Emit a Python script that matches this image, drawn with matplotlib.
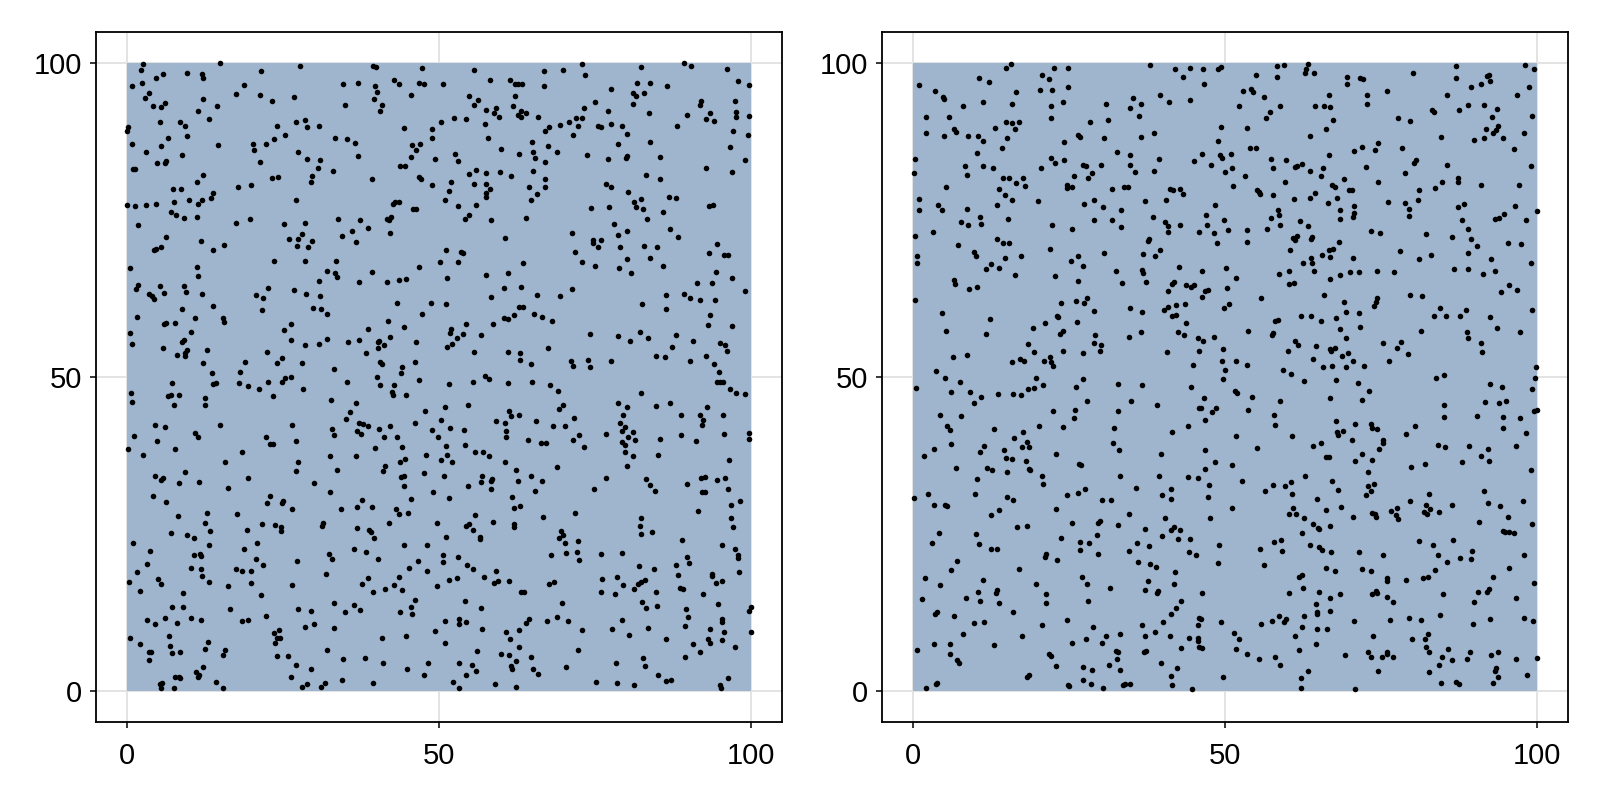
import numpy as np
import matplotlib
matplotlib.use('Agg')
import matplotlib.pyplot as plt

plt.rcParams['font.family'] = ['Liberation Sans', 'DejaVu Sans']

# values, one list per region of each panel
left_upper_a = [(2.7,99.8),(2.25,98.8),(5.75,98.25),(4.7,97.55),(2.5,96.8),(0.85,96.25),(3.6,95.25),(2.9,94.4),(4.3,93.2),(5.55,93.0),(6.15,93.55),(9.6,98.35),(12.05,98.15),(12.3,97.5),(14.9,99.9),(21.45,98.75),(27.75,99.55),(39.5,99.5),(39.9,99.35),(47.25,99.1),(18.8,96.4),(17.45,95.0),(21.4,94.85),(23.3,93.85),(26.8,94.6),(12.25,94.3),(14.5,93.2),(11.5,92.4),(13.15,91.0),(34.6,96.55),(37.0,96.85),(35.0,93.3),(39.7,96.3),(40.15,95.3),(39.55,94.3),(40.85,93.3),(40.55,92.35),(42.8,97.2),(43.6,96.65),(46.75,96.8),(47.65,96.65),(45.45,94.95),(5.35,90.65),(8.55,90.6),(9.4,90.0),(0.15,89.75),(0.1,89.1),(6.6,88.05),(9.7,88.3),(0.8,87.1),(5.45,86.8),(3.1,85.75),(8.8,85.4),(14.7,86.95),(4.8,84.0),(6.2,84.0),(6.35,84.35),(0.95,83.1),(1.35,83.1),(12.2,82.15),(11.3,81.05),(7.4,79.95),(8.65,79.85),(13.9,79.3),(13.45,78.5),(12.0,78.2),(11.4,77.5),(9.95,78.2),(7.6,77.85),(0.1,77.4),(1.35,77.2),(3.1,77.3),(4.65,77.45),(7.05,76.2),(7.9,75.85),(9.15,75.35),(11.2,75.5),(1.75,74.2),(6.3,72.3),(11.9,71.6),(5.5,70.75),(4.4,70.15),(4.65,70.3),(13.75,70.15),(15.55,71.05),
(20.3,87.0),(20.4,86.1),(22.3,87.0),(23.6,87.8),(25.4,88.5),(24.0,89.9),(27.1,90.6),(28.6,90.95),(28.8,89.75),(30.75,89.9),(33.3,88.1),(35.25,87.8),(36.6,87.2),(37.0,85.2),(27.4,85.75),(28.9,84.75),(31.0,84.5),(30.65,83.2),(33.0,82.7),(21.35,84.2),(23.3,81.65),(24.2,81.85),(29.65,82.0),(29.55,81.05),(19.9,80.55),(17.8,80.2),(27.1,78.2),(39.3,81.45),(44.4,89.55),(45.75,86.95),(47.0,87.0),(46.3,86.15),(45.45,85.0),(43.75,83.5),(44.55,83.6),(46.75,81.85),(47.15,81.45),(43.65,77.9),(43.0,77.85),(42.7,77.55),(45.9,76.75),(46.3,76.75),(42.3,75.4),(41.7,75.2),(42.0,74.9),(42.2,72.95),(33.9,75.1),(37.4,74.9),(38.6,73.65),(36.0,73.15),(34.4,72.35),(36.7,71.55),(17.45,74.55),(19.7,75.1),(25.15,74.3),(28.5,74.5),(28.05,72.7),(26.05,72.0),(27.5,71.9),(29.65,71.7),(27.3,70.9),(29.0,70.7),(23.6,68.5),(28.6,68.45),(33.45,68.45)]

left_upper_b = [(55.6,98.9),(50.7,96.7),(58.2,97.2),(61.3,97.2),(62.2,96.6),(62.7,96.6),(63.3,96.6),(66.8,98.7),(66.8,96.25),(69.85,98.8),(72.9,99.75),(73.4,98.1),(82.4,99.35),(89.2,99.9),(90.3,99.55),(96.1,99.0),(97.9,97.1),(77.6,95.9),(81.7,96.85),(83.7,96.85),(86.5,96.3),(81.0,95.25),(81.6,94.75),(82.8,95.15),(81.1,93.5),(54.75,94.65),(56.3,94.0),(55.6,93.3),(57.55,92.55),(59.1,92.8),(58.75,92.05),(59.55,91.4),(62.2,94.75),(61.9,93.1),(63.1,92.4),(62.6,91.75),(63.1,91.4),(63.85,91.95),(65.9,91.45),(74.9,93.8),(73.25,92.8),(77.0,92.35),(71.85,91.2),(72.9,91.15),(70.85,90.5),(69.4,90.05),(72.3,89.95),(67.6,89.7),(67.0,89.15),(75.5,89.95),(76.0,89.85),(77.6,90.25),(79.25,90.0),(80.1,88.6),(71.5,88.5),(83.55,92.05),(89.65,91.75),(88.1,90.0),(91.9,93.9),(91.7,93.3),(93.4,92.05),(92.7,91.1),(94.05,90.75),(97.4,93.9),(97.6,92.15),(97.5,91.45),(97.0,89.2),(96.6,86.65),
(50.4,90.55),(52.4,91.15),(54.4,91.1),(48.9,89.5),(48.9,88.0),(57.3,90.25),(57.8,88.05),(59.85,86.35),(64.95,87.4),(67.5,86.8),(65.0,85.85),(68.9,85.75),(62.8,85.45),(65.35,84.9),(67.0,84.2),(52.6,85.55),(49.4,84.75),(53.0,84.3),(73.75,85.25),(77.1,84.75),(78.6,87.1),(80.05,85.15),(79.95,84.85),(83.85,87.45),(85.45,85.05),(92.8,83.2),(96.9,82.6),(83.1,82.2),(85.3,81.45),(76.8,80.75),(77.6,80.2),(80.3,79.4),(81.2,77.85),(82.4,78.3),(81.6,77.05),(82.6,76.7),(86.8,78.7),(87.9,78.4),(77.2,77.1),(74.4,76.95),(85.9,76.2),(83.25,75.2),(93.25,77.2),(93.85,77.35),(54.75,82.35),(56.0,82.95),(57.6,82.4),(59.75,82.55),(61.6,81.95),(65.05,82.7),(66.95,81.55),(66.95,80.2),(64.35,80.2),(65.75,79.1),(64.75,78.1),(48.9,80.55),(51.9,81.05),(51.6,79.6),(50.95,78.2),(55.6,80.65),(57.5,80.75),(58.1,79.85),(57.6,79.3),(57.5,78.6),(56.0,77.4),(53.0,77.15),(54.85,75.7),(54.2,75.1),(58.4,74.9),(64.0,75.35),(78.05,74.4),(80.05,73.2),(78.65,72.55),(87.0,73.5),(88.25,72.25),(71.3,72.85),(60.5,72.15),(74.65,71.75),(74.65,71.3),(76.0,71.85),(75.5,70.6),(79.0,70.6),(82.8,70.85),(84.95,70.6),(94.45,71.2),(93.2,69.8),(95.6,69.4),(96.2,69.4),(51.1,70.2),(53.5,69.9),(53.8,69.65),(71.7,69.9),(50.15,68.25),(53.1,68.25),(63.4,68.15),(72.9,68.25),(80.05,68.7),(83.75,68.85)]

left_middle_a = [(0.55,67.35),(11.25,67.55),(11.35,66.1),(1.75,64.65),(1.45,63.95),(5.4,64.5),(9.25,64.4),(9.5,63.55),(5.95,63.4),(3.6,63.15),(4.1,62.95),(4.4,62.45),(12.05,63.25),(8.8,60.85),(13.9,61.3),(10.95,59.45),(1.65,59.5),(15.35,59.3),(15.6,58.8),(6.05,58.45),(6.35,58.5),(7.7,58.65),(10.3,57.15),(0.5,57.0),(9.15,55.9),(8.9,55.5),(0.85,55.3),(5.75,54.65),(9.6,54.35),(12.85,54.25),(9.4,53.75),(8.0,53.45),(9.3,53.25),(12.3,52.2),(13.7,50.6),(7.3,49.1),(14.3,49.0),(13.85,48.8),(0.65,47.4),(0.8,46.0),(8.45,47.15),(7.05,47.15),(6.55,47.0),(12.5,46.7),(12.5,45.6),(7.6,45.5),(4.5,42.4),(6.15,42.0),(14.9,42.4),(11.0,41.1),(11.45,40.45),(1.2,40.6),(4.9,39.85),(0.25,38.5),(7.8,38.5),(2.55,37.5),(9.4,34.85),(15.7,36.5),(18.4,38.0),
(22.6,64.1),(20.65,63.05),(21.8,62.55),(21.6,60.6),(26.85,63.85),(28.75,63.25),(30.95,62.85),(30.85,65.2),(32.1,66.9),(33.4,66.5),(33.65,65.95),(37.15,65.1),(39.25,66.75),(41.6,65.1),(43.6,65.45),(44.75,65.55),(46.75,67.55),(29.8,60.9),(31.05,60.85),(32.0,60.0),(43.2,61.75),(47.25,60.0),(41.8,58.95),(44.4,57.95),(38.7,57.6),(42.2,56.35),(37.15,55.85),(35.4,55.5),(40.3,55.6),(40.45,55.7),(41.25,55.1),(40.3,54.6),(46.3,55.6),(38.25,53.8),(26.3,58.45),(25.25,57.5),(26.3,55.9),(28.5,55.1),(30.85,55.25),(32.1,56.1),(22.5,53.9),(19.0,52.4),(24.85,53.0),(24.1,52.25),(28.1,52.25),(18.2,50.85),(33.2,51.25),(40.6,52.3),(40.8,52.1),(44.05,51.55),(46.2,52.3),(43.95,50.6),(40.15,50.05),(46.75,49.45),(26.25,50.05),(25.4,49.75),(24.95,49.25),(22.6,49.15),(18.05,49.0),(19.45,48.55),(21.2,48.1),(23.45,47.0),(28.25,48.0),(35.25,49.15),(40.6,48.7),(42.8,48.65),(42.5,47.6),(42.6,47.1),(44.65,47.1),(32.65,46.4),(36.7,45.85),(35.7,44.45),(35.15,43.3),(47.8,44.55),(46.1,42.7),(37.2,42.7),(37.85,42.45),(38.65,42.2),(40.35,41.7),(42.15,42.2),(32.9,41.75),(33.2,40.75),(36.8,41.45),(37.5,40.85),(41.2,40.45),(43.2,40.45),(44.05,38.85),(39.75,38.7),(26.4,42.3),(22.25,40.5),(27.1,39.85),(22.95,39.3),(23.45,39.3),(32.5,37.45),(36.7,37.45),(47.95,37.6),(27.5,36.5),(33.65,35.15),(27.1,34.95),(44.55,36.9),(43.8,36.5),(41.3,35.8),(41.05,35.05),(47.6,34.75)]

left_middle_b = [(51.3,65.7),(57.5,66.25),(61.0,66.55),(75.0,67.7),(78.8,67.35),(80.8,66.5),(85.9,67.65),(94.35,66.75),(91.3,64.9),(93.65,64.95),(96.85,65.75),(60.35,64.2),(63.1,64.25),(71.3,64.05),(58.4,62.75),(65.75,63.05),(69.35,62.9),(48.75,61.75),(51.2,61.65),(82.55,61.65),(86.4,63.05),(86.4,60.85),(89.15,63.25),(90.15,62.55),(91.8,62.2),(94.1,62.2),(93.3,59.85),(93.0,58.2),(96.9,58.15),(62.8,61.1),(63.5,61.05),(62.0,59.85),(60.45,59.45),(61.0,59.25),(65.2,60.0),(66.5,59.55),(68.1,58.85),(54.35,58.45),(58.6,58.45),(51.95,57.55),(51.75,57.0),(53.8,56.8),(52.9,56.25),(56.75,56.6),(52.1,55.3),(51.35,54.7),(55.6,54.0),(61.0,53.9),(62.95,53.8),(67.5,54.6),(63.0,52.7),(64.65,52.0),(71.05,52.55),(71.4,51.8),(73.8,52.7),(74.2,51.6),(77.45,52.55),(74.15,56.85),(78.6,56.5),(80.6,55.75),(82.15,57.2),(83.4,56.25),(88.0,56.6),(90.7,55.75),(87.35,54.75),(84.75,53.25),(86.15,53.1),(90.25,52.55),(92.75,53.4),(95.0,55.45),(95.8,55.0),(96.15,54.05),(94.05,52.0),(94.8,50.7),(94.45,49.25),(94.9,49.25),(95.5,49.25),(96.6,48.0),(97.6,47.5),(51.55,48.9),(55.5,49.25),(57.35,50.2),(58.0,49.65),(61.0,49.0),(64.9,49.15),(67.7,48.65),(69.0,47.8),(82.4,47.5),(78.6,45.85),(80.1,45.15),(84.75,45.3),(86.95,45.85),(92.9,45.2),(88.8,43.95),(91.75,43.9),(95.4,43.95),(92.3,43.15),(92.1,42.4),(79.4,43.9),(79.05,42.7),(79.75,42.05),(79.3,41.4),(81.1,41.15),(80.3,40.5),(81.4,40.0),(79.3,39.65),(79.7,39.2),(76.65,40.85),(85.4,40.1),(88.75,40.75),(95.55,40.95),(91.15,39.85),(79.75,38.0),(81.05,37.4),(85.0,37.6),(80.1,35.8),(96.45,36.75),
(69.9,45.6),(69.15,44.85),(71.6,43.4),(68.25,42.2),(70.2,42.2),(72.35,40.8),(71.45,39.95),(73.25,38.8),(65.5,43.05),(62.75,44.0),(61.2,44.5),(61.55,43.75),(59.15,43.05),(60.6,42.65),(60.8,41.35),(60.8,40.5),(64.2,39.95),(66.35,39.55),(67.15,39.55),(54.6,45.55),(50.95,45.2),(50.25,43.15),(51.75,41.9),(54.05,41.6),(48.85,41.5),(49.9,40.5),(51.2,39.0),(54.15,39.15),(55.7,38.1),(57.0,38.05),(58.0,37.45),(51.35,37.5),(50.35,36.8),(52.1,36.4),(60.55,36.5),(62.3,35.25),(68.95,35.7)]

left_lower_a = [(4.55,34.25),(5.85,33.9),(5.55,33.6),(8.35,33.15),(11.6,33.25),(16.2,32.3),(19.35,33.9),(30.05,33.15),(32.55,31.75),(44.35,34.25),(43.95,34.0),(44.35,32.65),(4.15,31.1),(6.25,30.15),(22.95,31.1),(22.45,29.9),(25.05,30.25),(24.85,29.9),(26.5,28.9),(37.65,30.35),(36.85,29.25),(39.3,29.3),(34.25,29.0),(45.5,30.6),(43.1,29.0),(43.6,28.1),(45.05,28.35),(8.3,27.85),(12.9,28.35),(17.7,28.15),(12.5,26.75),(13.3,25.4),(7.1,25.1),(9.6,24.8),(10.8,24.35),(19.3,25.7),(21.65,26.55),(23.8,26.4),(24.75,26.05),(24.75,25.45),(31.45,26.75),(31.3,26.3),(36.9,26.0),(38.85,25.65),(39.05,25.25),(39.55,24.35),(42.0,26.7),(1.05,23.6),(3.7,22.3),(13.2,23.2),(10.8,21.6),(11.7,21.8),(11.85,21.45),(18.8,22.6),(20.9,23.6),(20.75,20.95),(21.9,20.0),(27.2,20.7),(32.4,21.85),(32.9,20.95),(36.45,22.65),(38.3,22.2),(40.25,20.95),(44.35,23.25),(48.0,23.25),(46.6,20.75),(3.25,20.2),(1.6,18.95),(10.35,19.5),(11.85,19.4),(12.1,18.3),(17.55,19.45),(18.5,19.15),(19.85,19.15),(31.9,18.6),(38.6,18.05),(45.15,19.6),(48.15,19.15),(43.6,18.2),(0.4,17.4),(5.0,17.9),(5.45,17.05),(13.2,17.4),(16.3,16.75),(19.85,17.25),(26.45,16.95),(37.7,17.05),(42.75,16.95),(2.15,15.95),(9.05,15.65),(21.45,15.3),(39.4,15.7),(41.35,16.25),(44.15,16.0),(33.2,14.05),(36.45,13.65),(46.15,14.5),(7.3,13.3),(8.95,13.35),(16.6,13.05),(27.4,13.1),(29.5,12.75),(35.0,12.5),(37.35,12.85),(43.75,12.6),(45.55,13.3),(45.6,12.2),(6.1,11.65),(3.3,11.3),(4.6,10.6),(8.05,10.9),(10.25,11.55),(11.85,11.35),(18.4,11.1),(19.4,11.25),(22.3,11.95),(28.5,10.25),(30.05,10.6),(33.2,10.1),(23.6,9.3),(24.4,9.65),(24.0,8.45),(24.55,8.4),(23.75,7.7),(0.6,8.4),(2.1,7.5),(6.85,8.8),(6.9,7.1),(13.0,7.85),(12.55,6.75),(7.3,6.1),(8.5,6.2),(3.6,6.15),(3.85,6.15),(3.65,4.9),(15.8,6.55),(15.4,5.65),(40.8,8.5),(44.65,8.8),(32.15,6.6),(24.0,5.55),(25.85,5.6),(34.6,5.1),(38.2,5.3),(27.05,4.1),(29.55,3.55),(41.1,4.4),(44.9,3.55),(48.2,4.5),(47.6,2.55),(12.2,3.75),(11.1,2.95),(11.6,2.55),(11.4,2.25),(7.75,2.25),(8.45,2.3),(26.25,2.3),(5.65,1.25),(14.3,1.5),(28.9,1.1),(31.7,1.3),(34.5,1.7),(39.4,1.2)]

left_lower_b = [(50.75,34.3),(56.85,34.2),(64.7,34.2),(54.7,32.6),(56.8,33.3),(58.45,33.75),(58.25,33.4),(58.35,32.15),(62.6,33.4),(66.55,33.4),(65.35,31.85),(49.0,31.75),(51.6,30.8),(61.65,30.95),(63.0,29.4),(62.0,29.05),(76.65,33.9),(74.75,32.2),(83.15,33.7),(83.8,32.8),(84.6,31.85),(89.75,32.9),(91.95,33.9),(92.65,34.05),(94.55,33.65),(95.75,33.9),(96.2,32.2),(92.1,31.6),(92.5,31.6),(96.7,29.6),(98.2,30.2),(91.4,28.65),(96.75,27.5),(97.0,26.15),(55.8,27.95),(54.85,26.65),(54.35,26.3),(49.75,26.75),(58.6,26.9),(55.5,25.55),(62.05,26.55),(62.0,26.1),(66.7,27.65),(71.75,28.3),(51.2,24.5),(56.55,24.5),(56.6,24.15),(82.3,27.55),(82.2,26.3),(82.4,25.0),(84.1,25.3),(69.6,25.5),(69.8,24.8),(69.2,24.3),(70.2,23.5),(72.3,23.95),(72.05,22.15),(70.25,21.9),(72.4,20.9),(67.95,21.65),(75.9,21.85),(79.35,21.95),(88.9,24.1),(95.35,23.3),(97.45,22.55),(97.9,21.65),(97.9,21.1),(89.7,21.35),(90.05,20.45),(87.9,20.05),(50.65,21.7),(50.6,20.55),(53.0,21.35),(54.5,20.0),(55.45,19.4),(59.2,19.05),(57.15,18.1),(52.85,18.0),(51.6,17.6),(58.8,17.25),(59.5,17.45),(61.15,17.55),(49.65,16.65),(82.0,19.95),(84.4,19.4),(88.25,18.45),(98.0,18.9),(93.75,18.6),(93.7,18.3),(94.4,17.25),(95.25,17.5),(78.45,18.2),(76.15,17.8),(79.45,16.9),(83.0,17.7),(82.35,17.3),(81.85,17.05),(81.25,16.2),(84.7,15.8),(88.65,16.45),(89.1,16.2),(92.25,15.5),(68.35,17.35),(67.6,17.0),(63.05,15.75),(63.6,15.7),(76.0,15.8),(78.1,15.45),(54.1,14.3),(56.65,13.2),(69.7,13.95),(82.45,14.15),(83.1,13.25),(84.85,13.6),(94.65,13.9),(89.6,13.0),(89.8,11.85),(89.35,10.35),(50.9,11.2),(53.15,11.4),(53.25,10.6),(54.4,10.95),(64.4,11.5),(63.9,10.9),(67.25,11.1),(68.9,11.8),(70.7,11.1),(79.3,11.25),(95.35,11.4),(95.25,10.95),(49.35,9.55),(56.9,9.9),(60.75,9.4),(62.85,9.65),(72.95,9.75),(77.75,9.8),(83.4,9.95),(93.35,9.9),(95.65,9.4),(80.4,8.85),(61.3,8.2),(86.4,8.2),(93.1,8.2),(93.4,7.65),(95.25,8.05),(50.95,7.65),(90.6,7.45),(97.45,7.0),(56.1,6.35),(62.75,7.0),(72.3,6.45),(91.75,6.2),(59.85,5.85),(61.2,5.7),(64.7,5.45),(89.4,5.45),(82.6,5.25),(62.3,4.7),(53.15,4.45),(55.25,4.2),(78.35,4.45),(82.9,4.0),(61.6,3.9),(61.7,3.45),(65.1,3.5),(70.3,3.8),(55.95,3.2),(54.3,2.5),(65.85,2.65),(85.1,2.6),(86.3,1.55),(87.2,1.7),(96.3,2.0),(52.2,1.4),(59.0,1.15),(75.05,1.5),(78.55,1.3),(95.0,1.0)]

# readings for the strip under the last crop and the right edge
left_edge = [(5.4,1.1),(5.5,0.4),(7.6,0.4),(8.6,2.1),(15.4,0.5),(28.1,0.7),(31.1,0.7),(53.2,0.5),(81.2,0.9),(95.1,0.5),(62.4,0.7),(99.6,96.4),(99.6,91.6),(99.0,63.7),(99.6,41.1),(99.6,40.1),(99.9,13.3),(99.6,12.8),(99.9,9.4),(99.5,88.5),(98.9,84.6),(98.9,47.2)]

right_upper_a = [(15.75,99.8),(15.0,99.15),(22.6,99.25),(24.8,99.1),(38.0,99.6),(42.05,99.0),(44.4,99.1),(43.2,97.7),(20.65,98.1),(21.8,97.4),(10.6,97.55),(12.3,97.0),(1.0,96.5),(3.6,95.55),(4.8,94.5),(5.0,94.2),(8.0,93.2),(11.25,93.7),(15.9,93.5),(16.6,95.3),(20.4,95.65),(22.3,95.7),(24.9,96.1),(24.1,93.7),(22.1,93.15),(22.1,91.25),(31.0,93.5),(35.3,94.4),(36.6,93.4),(34.85,92.8),(36.25,91.55),(39.65,94.8),(41.0,93.8),(44.35,94.05),(2.1,91.35),(5.8,91.3),(6.6,89.5),(7.0,89.0),(2.2,88.75),(5.1,88.35),(8.9,88.4),(10.5,88.4),(11.3,87.5),(13.25,89.6),(15.0,90.65),(15.85,90.45),(17.1,90.65),(16.4,89.5),(15.15,88.0),(14.35,86.5),(10.25,85.65),(28.45,90.6),(31.2,90.9),(26.4,88.5),(26.8,88.25),(30.7,88.1),(24.25,87.45),(36.6,88.15),(38.65,88.85),(32.7,85.8),(34.75,85.25),(39.5,84.75),(45.1,84.4),(34.8,83.75),(38.7,82.8),(35.65,82.6),(0.4,84.7),(0.3,82.5),(8.45,83.5),(8.65,82.2),(11.3,83.55),(12.85,83.2),(22.1,84.9),(22.75,84.0),(24.25,84.55),(20.55,83.2),(27.2,83.7),(27.7,83.6),(30.2,83.7),(28.7,82.4),(28.0,81.7),(25.85,81.9),(14.5,81.7),(15.4,81.7),(17.6,81.6),(16.6,80.8),(18.0,80.35),(24.7,80.5),(24.7,80.1),(25.5,80.2),(5.3,80.25),(13.85,79.95),(14.85,79.0),(15.9,78.1),(20.0,78.05),(31.9,79.95),(33.9,80.3),(34.4,80.2),(41.2,79.95),(41.6,79.8),(42.8,79.95),(43.2,79.1),(40.5,78.2),(37.15,78.0),(1.0,78.3),(1.1,76.5),(4.0,77.4),(4.7,76.5),(8.75,76.65),(13.45,77.4),(10.75,75.4),(10.95,74.4),(7.8,74.7),(8.8,74.1),(15.3,75.15),(27.45,77.6),(29.05,78.2),(30.4,77.0),(33.3,76.5),(29.1,74.95),(31.9,75.0),(33.4,73.8),(22.3,74.2),(25.45,73.55),(38.45,75.4),(40.45,74.6),(40.95,74.0),(42.75,74.1),(40.95,73.05),(45.8,73.1),(0.4,72.35),(3.25,73.0),(13.55,71.9),(14.5,71.35),(15.5,71.35),(7.2,71.05),(9.75,69.95),(10.15,69.3),(0.75,69.2),(0.75,68.1),(14.8,68.85),(17.35,69.25),(22.05,70.3),(30.65,69.8),(26.4,69.25),(25.3,68.4),(37.6,71.65),(37.8,72.0),(39.65,70.2),(36.9,69.6),(38.8,69.2),(12.6,67.95)]

right_upper_b = [(46.4,99.0),(48.9,98.95),(49.35,99.3),(46.7,96.6),(54.95,98.0),(58.4,99.5),(59.4,99.7),(58.3,97.7),(63.3,99.8),(63.0,99.05),(62.75,98.4),(64.2,98.3),(69.55,97.75),(71.55,97.5),(72.15,97.45),(69.55,96.6),(80.1,98.4),(86.9,99.55),(86.9,97.5),(92.3,98.1),(92.0,97.9),(92.4,97.1),(90.9,96.6),(89.4,96.2),(52.85,95.5),(54.2,95.75),(54.55,95.3),(56.3,94.5),(52.3,93.15),(58.85,93.05),(57.25,92.15),(56.5,91.2),(66.65,94.8),(64.45,93.15),(65.9,93.15),(66.85,92.9),(67.3,90.85),(66.15,89.4),(63.6,88.35),(72.7,94.8),(72.7,93.45),(75.9,95.45),(85.5,94.9),(83.1,92.55),(83.5,92.1),(87.4,92.5),(88.85,93.3),(91.5,93.35),(93.5,92.65),(92.75,91.35),(77.7,91.2),(79.55,90.8),(93.65,89.9),(93.35,89.3),(92.9,88.9),(91.75,89.5),(91.45,88.0),(89.9,87.7),(94.5,88.05),(84.5,88.15),(49.4,89.7),(53.6,89.6),(48.95,87.5),(54.05,86.4),(54.95,86.4),(46.3,85.45),(49.2,85.3),(49.5,84.9),(51.0,85.5),(47.7,83.7),(51.05,83.3),(50.05,82.55),(53.15,82.0),(51.35,80.45),(57.3,84.75),(59.7,84.6),(57.75,83.2),(62.25,83.9),(61.5,83.55),(61.2,83.35),(63.55,82.75),(65.75,83.2),(65.35,81.9),(59.6,81.05),(66.65,85.35),(70.6,85.9),(71.95,86.6),(74.0,86.05),(74.45,87.2),(78.3,86.5),(72.55,83.45),(80.5,84.5),(80.3,84.1),(85.6,83.8),(78.8,82.4),(69.05,81.5),(74.45,81.05),(67.1,80.6),(67.6,80.25),(69.8,79.8),(70.35,79.8),(55.2,79.8),(55.4,79.45),(55.65,79.15),(57.65,78.9),(61.1,78.35),(63.65,78.5),(64.4,79.2),(67.9,78.4),(66.45,77.7),(70.7,77.2),(68.4,76.5),(70.6,76.05),(70.5,75.5),(68.4,75.2),(87.35,81.65),(87.35,81.05),(84.8,81.0),(83.55,80.1),(91.05,80.5),(81.05,79.8),(80.95,78.1),(76.1,77.8),(78.75,77.7),(79.45,76.65),(79.45,75.65),(88.2,77.5),(87.3,77.05),(94.65,75.9),(93.8,75.25),(93.2,75.15),(88.0,74.9),(88.95,73.55),(82.25,72.7),(86.4,72.3),(89.45,72.0),(90.3,70.8),(88.9,69.7),(92.65,68.75),(48.35,77.3),(46.9,75.7),(49.85,75.0),(47.05,74.1),(48.25,72.95),(50.45,73.45),(48.75,71.35),(53.6,73.45),(53.5,71.5),(58.55,76.6),(58.7,75.8),(57.4,75.25),(56.8,73.6),(58.8,74.25),(62.0,74.85),(63.3,74.0),(60.95,72.1),(61.6,72.35),(61.15,71.75),(64.0,72.3),(63.75,72.0),(68.25,71.55),(73.3,73.15),(74.75,72.95),(60.35,70.2),(66.65,70.15),(67.35,70.3),(65.5,69.35),(66.75,69.1),(63.7,68.9),(62.55,68.2),(64.0,68.15),(70.45,68.9),(78.0,70.05),(81.05,68.8),(82.9,69.35),(95.35,71.3)]

right_middle_a = [(11.7,67.15),(13.8,67.3),(16.4,66.2),(22.8,66.0),(26.5,65.3),(27.2,67.6),(32.55,66.9),(36.7,67.0),(36.85,66.6),(33.5,65.0),(37.4,65.15),(42.6,67.45),(6.6,65.4),(6.8,64.85),(9.0,64.05),(10.35,64.3),(41.9,65.05),(41.5,64.75),(43.7,64.6),(44.5,64.3),(45.0,64.55),(40.9,63.7),(0.45,62.25),(26.15,62.15),(27.85,62.5),(27.4,61.7),(23.75,61.7),(29.1,60.45),(34.85,61.0),(36.65,60.4),(40.2,60.7),(40.9,61.15),(42.2,61.4),(43.55,61.55),(41.45,59.65),(42.15,59.85),(4.75,60.15),(12.4,59.25),(23.05,59.7),(23.2,59.6),(21.2,58.6),(26.3,58.7),(19.3,57.75),(5.35,57.3),(11.7,56.85),(24.0,57.3),(23.55,56.8),(43.75,58.6),(36.5,57.1),(42.55,57.2),(43.4,56.6),(34.65,56.3),(45.6,56.25),(29.15,56.6),(29.1,55.35),(30.15,55.15),(30.05,54.2),(18.5,55.2),(19.5,53.9),(24.0,54.15),(27.2,53.75),(40.65,54.0),(45.8,54.15),(8.7,53.45),(6.45,53.1),(15.95,52.4),(17.2,52.85),(17.8,52.45),(21.1,52.45),(21.95,53.2),(22.15,52.3),(22.5,51.75),(44.95,51.85),(3.8,50.95),(5.2,49.9),(7.55,49.15),(19.75,49.9),(27.35,49.65),(20.8,48.7),(19.4,48.3),(18.4,48.0),(26.2,48.45),(32.8,48.9),(36.65,48.65),(44.55,48.35),(0.6,48.2),(6.1,47.6),(9.2,47.55),(10.9,46.8),(9.8,45.9),(13.65,47.3),(16.05,47.35),(17.4,47.1),(27.85,46.2),(35.0,46.2),(39.05,45.5),(45.9,45.1),(4.45,44.0),(7.75,43.75),(22.45,44.5),(26.05,44.8),(25.8,43.4),(32.8,44.5),(5.45,42.2),(6.0,41.6),(13.0,41.75),(20.25,42.15),(24.1,42.1),(32.25,41.9),(44.0,42.25),(41.55,41.25),(17.6,41.25),(16.2,40.3),(18.3,39.65),(17.5,38.8),(18.6,38.85),(32.05,39.5),(6.1,39.25),(11.5,38.95),(3.4,38.5),(14.65,38.35),(10.75,38.0),(1.75,37.35),(15.0,37.15),(15.9,36.9),(18.15,36.65),(22.9,37.75),(33.0,38.35),(39.8,37.75),(26.7,36.15),(26.95,36.0),(6.95,35.55),(11.85,35.55),(12.75,35.15),(15.1,34.9),(18.6,35.4),(18.75,35.15)]

right_middle_b = [(50.15,67.35),(46.25,66.8),(51.7,65.8),(50.25,64.15),(58.7,66.4),(60.3,66.9),(64.3,66.8),(66.8,65.55),(68.4,66.2),(70.0,66.75),(71.4,66.65),(74.3,66.85),(77.1,66.7),(60.3,64.8),(61.1,65.0),(86.7,67.25),(88.85,67.15),(91.35,66.4),(93.2,66.85),(95.45,64.65),(94.15,63.5),(47.35,63.9),(46.8,63.65),(46.25,62.7),(55.75,62.55),(65.9,63.05),(69.0,61.9),(74.4,62.6),(74.1,61.95),(73.9,61.25),(79.55,63.05),(81.5,62.95),(50.7,61.65),(49.9,61.0),(84.35,60.9),(83.4,59.75),(85.45,59.75),(87.55,59.75),(88.65,60.6),(92.35,59.55),(93.6,57.8),(62.1,59.75),(63.75,59.75),(65.35,58.95),(67.7,59.45),(69.3,60.25),(71.45,60.2),(71.55,58.0),(68.45,57.65),(58.45,59.1),(58.05,58.95),(53.65,57.3),(57.75,57.0),(57.45,56.6),(48.25,56.4),(46.45,55.65),(69.3,56.2),(81.4,57.25),(88.8,57.15),(88.95,56.25),(91.05,55.35),(91.2,53.95),(75.35,55.35),(78.25,55.55),(77.5,54.6),(79.25,53.6),(76.2,52.45),(61.25,55.65),(61.75,55.1),(60.1,54.2),(64.6,54.85),(66.75,54.45),(66.9,54.15),(67.65,54.6),(69.75,53.8),(68.8,53.3),(70.5,52.45),(64.15,52.9),(67.2,51.8),(65.75,51.6),(69.3,51.5),(72.25,51.75),(49.6,54.5),(49.5,52.6),(51.75,52.5),(53.5,51.85),(49.95,51.1),(49.7,49.6),(59.3,51.15),(60.55,50.4),(62.65,49.4),(67.75,49.55),(71.35,48.95),(73.0,47.8),(71.9,46.4),(66.85,46.7),(51.55,47.8),(52.0,47.45),(54.4,46.85),(58.8,46.2),(46.6,46.65),(46.15,45.1),(48.5,45.1),(47.9,44.45),(53.65,44.7),(46.75,43.15),(57.9,43.95),(58.0,42.4),(83.85,49.8),(85.1,50.3),(92.4,48.9),(94.4,48.4),(91.6,46.0),(93.8,45.9),(94.95,46.2),(85.05,45.6),(85.1,43.55),(90.4,43.7),(94.45,43.6),(94.45,41.8),(80.35,42.15),(79.0,40.85),(67.8,42.9),(70.75,42.5),(73.4,42.45),(73.45,41.9),(74.35,41.75),(68.95,41.45),(67.95,41.3),(68.15,40.75),(70.4,40.0),(75.3,39.9),(75.3,39.55),(74.65,38.45),(51.8,40.65),(60.65,40.65),(65.35,39.4),(64.1,39.05),(55.1,38.75),(46.85,38.3),(71.85,37.8),(66.1,37.25),(66.7,37.2),(70.8,36.55),(73.45,36.8),(48.45,36.45),(51.1,36.0),(46.85,35.3),(84.1,39.2),(85.15,38.8),(89.1,38.95),(92.1,38.5),(91.05,37.35),(92.3,36.65),(87.9,36.45),(82.0,36.15),(79.8,35.6),(72.9,34.9)]

right_lower_a = [(10.35,33.7),(20.7,34.2),(20.85,32.9),(33.25,34.2),(39.45,34.3),(44.0,34.0),(45.75,33.9),(35.8,32.3),(41.35,32.2),(39.95,31.15),(41.4,30.6),(9.95,31.4),(0.3,30.8),(2.4,31.3),(3.4,29.55),(5.25,29.6),(5.45,29.45),(15.15,30.85),(16.0,30.35),(24.7,31.25),(26.4,31.5),(27.65,32.15),(30.3,30.45),(31.8,30.4),(12.6,28.05),(13.9,28.8),(22.9,28.9),(34.6,28.2),(40.35,27.55),(16.65,26.1),(18.25,26.2),(25.55,26.7),(30.05,27.0),(29.75,26.75),(32.95,26.45),(37.15,25.85),(41.85,26.1),(41.3,25.7),(42.85,25.65),(4.15,25.15),(10.2,24.95),(29.55,24.9),(39.85,24.6),(42.45,24.2),(44.35,24.2),(3.15,23.55),(10.55,23.35),(23.7,24.35),(26.8,23.65),(28.25,23.55),(35.85,23.55),(37.9,23.0),(12.5,22.55),(13.45,22.55),(26.85,22.45),(34.6,22.3),(44.25,22.15),(45.4,21.6),(21.35,21.85),(21.15,21.35),(23.15,20.9),(29.6,21.75),(7.05,20.7),(6.2,19.3),(36.0,20.55),(38.0,20.15),(38.9,19.7),(17.05,19.35),(42.05,18.9),(1.95,18.05),(4.45,16.8),(11.3,17.7),(27.1,18.1),(27.9,17.0),(37.6,17.5),(41.9,17.0),(19.75,17.0),(31.65,16.35),(37.15,16.15),(10.4,15.7),(13.45,16.05),(13.35,15.65),(39.35,15.9),(39.05,15.55),(21.3,15.4),(1.45,14.7),(8.5,14.8),(10.8,14.4),(13.85,14.0),(21.4,14.0),(28.1,14.3),(42.9,14.3),(42.15,13.25),(41.35,12.2),(3.95,12.65),(3.65,12.2),(6.65,12.0),(16.05,12.6),(24.65,11.35),(9.85,10.8),(11.35,11.0),(20.7,10.45),(28.85,10.25),(36.7,10.55),(40.15,11.0),(45.8,11.55),(45.75,10.45),(8.0,9.0),(17.45,8.8),(30.9,8.75),(33.2,9.0),(37.2,8.75),(38.8,9.4),(41.2,8.7),(44.25,8.45),(45.6,8.5),(45.7,7.95),(27.75,8.3),(3.5,7.4),(6.0,7.5),(12.95,7.3),(25.5,7.6),(30.3,7.6),(0.65,6.6),(42.9,6.85),(45.9,6.95),(32.55,6.35),(32.8,6.15),(37.35,6.35),(37.0,6.2),(6.0,5.85),(21.8,5.85),(22.2,5.5),(7.15,4.9),(7.35,4.5),(32.7,5.05),(39.75,4.5),(23.0,4.0),(27.2,3.85),(28.65,3.3),(31.4,4.15),(33.25,3.3),(42.35,3.65),(41.35,2.45),(18.65,2.5),(18.35,2.15),(27.2,1.7),(3.95,1.2),(24.9,1.0),(28.5,1.05),(33.95,1.05),(34.85,1.05),(41.5,1.0)]

right_lower_b = [(47.45,32.8),(52.7,33.35),(57.65,32.85),(59.55,32.65),(60.5,33.3),(62.8,34.2),(67.15,33.4),(56.35,31.9),(60.65,31.3),(47.3,30.95),(68.05,31.95),(72.95,32.65),(73.9,33.0),(73.35,31.9),(72.6,31.15),(82.6,31.35),(91.4,31.9),(64.75,30.5),(79.6,30.3),(82.1,29.65),(86.3,29.6),(92.05,29.9),(93.95,29.45),(51.05,29.1),(60.95,29.1),(66.15,28.75),(68.5,29.3),(77.6,29.15),(76.5,28.7),(82.8,28.9),(81.85,28.55),(82.35,28.2),(84.3,28.55),(60.3,28.1),(61.4,28.1),(62.6,27.6),(73.5,28.4),(74.0,28.2),(74.2,27.65),(77.3,28.0),(77.7,27.45),(70.45,27.75),(47.6,27.55),(95.25,27.75),(90.6,26.9),(64.05,26.6),(64.85,25.9),(65.1,25.75),(66.8,26.2),(62.4,25.1),(94.45,25.5),(94.75,25.3),(95.4,25.35),(49.0,23.25),(55.65,22.65),(57.8,23.75),(58.9,24.0),(59.15,22.35),(63.65,23.3),(65.0,22.9),(65.6,22.5),(67.0,22.05),(71.4,22.1),(75.35,21.6),(81.0,23.85),(83.35,23.25),(86.55,24.05),(84.1,21.65),(85.55,20.6),(87.6,21.1),(89.55,22.3),(89.3,21.05),(48.95,20.3),(56.25,20.0),(66.15,19.65),(67.6,19.1),(71.95,19.4),(73.35,19.1),(83.65,19.25),(82.55,18.15),(81.7,17.95),(79.0,17.7),(76.0,17.95),(76.0,17.5),(62.3,18.5),(61.8,18.15),(92.9,18.15),(95.45,19.6),(62.55,16.35),(60.25,15.6),(46.35,15.65),(65.05,15.8),(68.35,15.5),(66.8,14.85),(73.55,15.5),(74.1,15.95),(74.4,15.6),(76.0,14.95),(76.85,14.15),(84.85,15.4),(90.55,15.8),(92.3,16.25),(91.9,15.7),(89.9,14.2),(64.55,13.8),(64.7,12.6),(64.7,12.25),(66.85,12.8),(62.65,11.9),(58.7,12.0),(59.75,11.4),(59.45,11.0),(57.45,11.15),(55.7,10.6),(49.35,11.0),(46.1,11.45),(70.6,11.2),(76.45,11.35),(79.5,11.6),(81.45,11.3),(84.4,12.05),(89.65,10.65),(92.4,11.45),(62.4,10.15),(64.8,9.9),(66.35,9.8),(51.4,9.2),(52.3,8.25),(61.15,8.7),(73.75,8.8),(82.45,9.1),(79.9,8.35),(82.0,8.2),(64.55,7.45),(51.7,6.65),(46.35,6.8),(61.8,6.5),(82.2,6.95),(82.7,6.25),(85.7,6.65),(89.25,6.15),(93.65,6.25),(92.55,5.75),(72.9,6.25),(76.0,6.25),(76.0,5.9),(53.6,5.9),(69.25,5.7),(73.35,5.35),(75.15,5.45),(76.9,5.45),(84.8,5.4),(86.4,4.95),(88.7,5.1),(55.45,5.15),(58.0,5.4),(58.85,4.15),(84.3,4.1),(93.4,3.7),(93.15,3.2),(63.35,3.2),(74.55,3.25),(82.6,3.1),(93.65,2.2),(49.6,2.3),(62.15,2.1),(84.6,1.3),(87.05,1.4),(87.4,1.05),(92.9,1.2)]

# readings for the strip under the last crop and the right edge
right_edge = [(2.2,0.5),(3.7,1.1),(25.0,0.8),(30.5,0.4),(33.6,0.9),(44.7,0.3),(70.8,0.3),(62.2,0.5),(98.0,99.7),(99.5,99.0),(98.6,96.2),(96.8,94.8),(99.2,91.6),(97.8,88.9),(96.2,86.2),(99.0,83.6),(97.0,80.5),(96.4,77.2),(100.0,76.4),(98.2,75.0),(97.4,71.2),(99.0,68.1),(96.8,63.9),(99.2,60.6),(97.2,57.2),(99.8,51.6),(99.6,49.9),(99.2,48.0),(100.0,44.8),(99.4,44.6),(97.2,43.5),(98.2,41.1),(96.6,39.0),(99.0,35.1),(97.7,30.2),(99.2,26.6),(96.2,25.2),(97.8,21.6),(99.4,17.2),(96.6,14.8),(99.3,11.1),(97.9,11.6),(100.0,5.2),(96.6,5.1),(98.4,2.6)]

xticks = [0, 50, 100]
yticks = [0, 50, 100]
fill_x = [0, 100]
fill_y = [0, 100]

left_pts = np.array(left_upper_a + left_upper_b + left_middle_a + left_middle_b + left_lower_a + left_lower_b + left_edge)
right_pts = np.array(right_upper_a + right_upper_b + right_middle_a + right_middle_b + right_lower_a + right_lower_b + right_edge)

fig = plt.figure(figsize=(16, 8), dpi=100)
boxes = [[96/1600, 78.3/800, 686/1600, 690/800], [882/1600, 78.3/800, 686/1600, 690/800]]

for box, pts in zip(boxes, [left_pts, right_pts]):
    ax = fig.add_axes(box)
    ax.set_axisbelow(True)
    ax.grid(True, color='#e3e3e3', linewidth=1.4)
    ax.fill_between(fill_x, fill_y[0], fill_y[1], color='#9fb5cd', linewidth=0, zorder=2)
    ax.scatter(pts[:, 0], pts[:, 1], s=16, color='black', linewidths=0, zorder=3, clip_on=False)
    ax.set_xlim(-4.9, 104.9)
    ax.set_ylim(-4.89, 104.95)
    ax.set_xticks(xticks)
    ax.set_yticks(yticks)
    ax.tick_params(length=4.5, width=1.1, labelsize=21)
    ax.tick_params(axis='x', pad=10)
    ax.tick_params(axis='y', pad=5.5)
    for s in ax.spines.values():
        s.set_linewidth(1.3)

plt.savefig('out.png', dpi=100)
